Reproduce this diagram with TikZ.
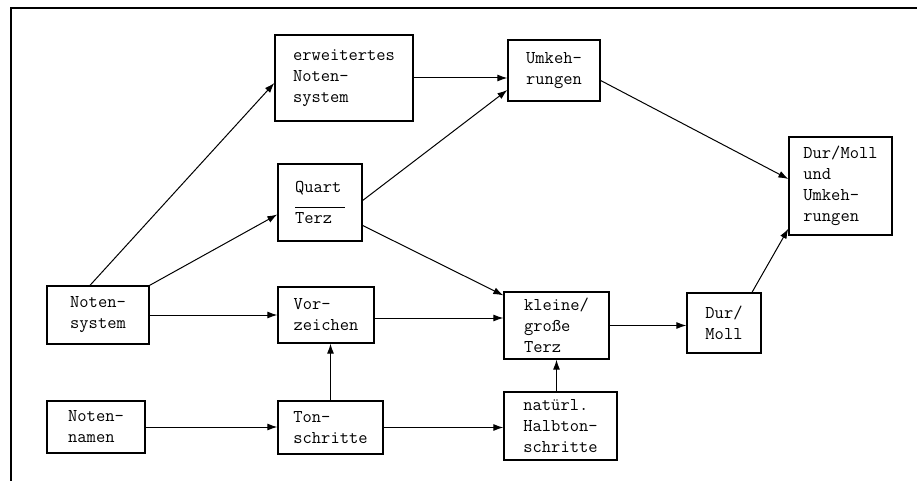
\documentclass[tikz,border=0pt]{standalone}
\usetikzlibrary{arrows.meta}
\begin{document}
\begin{tikzpicture}[x=1pt,y=-1pt,
  box/.style={draw, line width=1.3pt, align=left,
    font=\ttfamily\fontsize{18}{21}\selectfont, inner sep=0pt},
  link/.style={line width=1pt, -{Latex[length=10pt,width=7pt]}}]
\useasboundingbox (0,0) rectangle (917,481);
% open frame: left and top edges only
\draw[line width=1.5pt] (11,481) -- (11,8) -- (917,8);

% boxes
\node[box, minimum width=102pt, minimum height=58pt] (ns) at (98,315) {Noten-\\system};
\node[box, minimum width=98pt, minimum height=52pt] (nn) at (96,427) {Noten-\\namen};
\node[box, minimum width=138pt, minimum height=86pt] (ens) at (344,78) {erweitertes\\Noten-\\system};
\node[box, minimum width=84pt, minimum height=77pt] (qt) at (320,202.5)
  {Quart\\[-6pt]\rule{50pt}{0.8pt}\\[-5pt]Terz};
\node[box, minimum width=96pt, minimum height=56pt] (vz) at (326,315) {Vor-\\zeichen};
\node[box, minimum width=105pt, minimum height=53pt] (ts) at (330.5,427.5) {Ton-\\schritte};
\node[box, minimum width=92pt, minimum height=61pt] (uk) at (554,70.5) {Umkeh-\\rungen};
\node[box, minimum width=105pt, minimum height=67pt] (kt) at (556.5,325.5) {kleine/\\große\\Terz};
\node[box, minimum width=113pt, minimum height=68pt] (nh) at (560.5,426) {natürl.\\Halbton-\\schritte};
\node[box, minimum width=74pt, minimum height=60pt] (dm) at (724,323) {Dur/\\Moll};
\node[box, minimum width=103pt, minimum height=98pt] (dmu) at (840.5,186) {Dur/Moll\\und\\Umkeh-\\rungen};

% connectors
\draw[link] ([xshift=-8pt]ns.north) -- ([yshift=-5pt]ens.west);
\draw[link] (ns.north east) -- ([yshift=-12pt]qt.west);
\draw[link] (ns.east) -- (ns.east -| vz.west);
\draw[link] (nn.east) -- (nn.east -| ts.west);
\draw[link] (ts.north) -- (ts.north |- vz.south);
\draw[link] (ts.east) -- (ts.east -| nh.west);
\draw[link] ([yshift=-3pt]vz.east) -- ([yshift=-3pt]vz.east -| kt.west);
\draw[link] ([yshift=2pt]qt.east) -- ([yshift=-19.5pt]uk.west);
\draw[link] ([yshift=-23pt]qt.east) -- ([yshift=-4pt]kt.north west);
\draw[link] (ens.east) -- (ens.east -| uk.west);
\draw[link] ([yshift=-10pt]uk.east) -- ([yshift=7pt]dmu.west);
\draw[link] (kt.south |- nh.north) -- (kt.south);
\draw[link] (kt.east) -- (kt.east -| dm.west);
\draw[link] ([xshift=28pt]dm.north) -- ([yshift=7pt]dmu.south west);
\end{tikzpicture}
\end{document}
